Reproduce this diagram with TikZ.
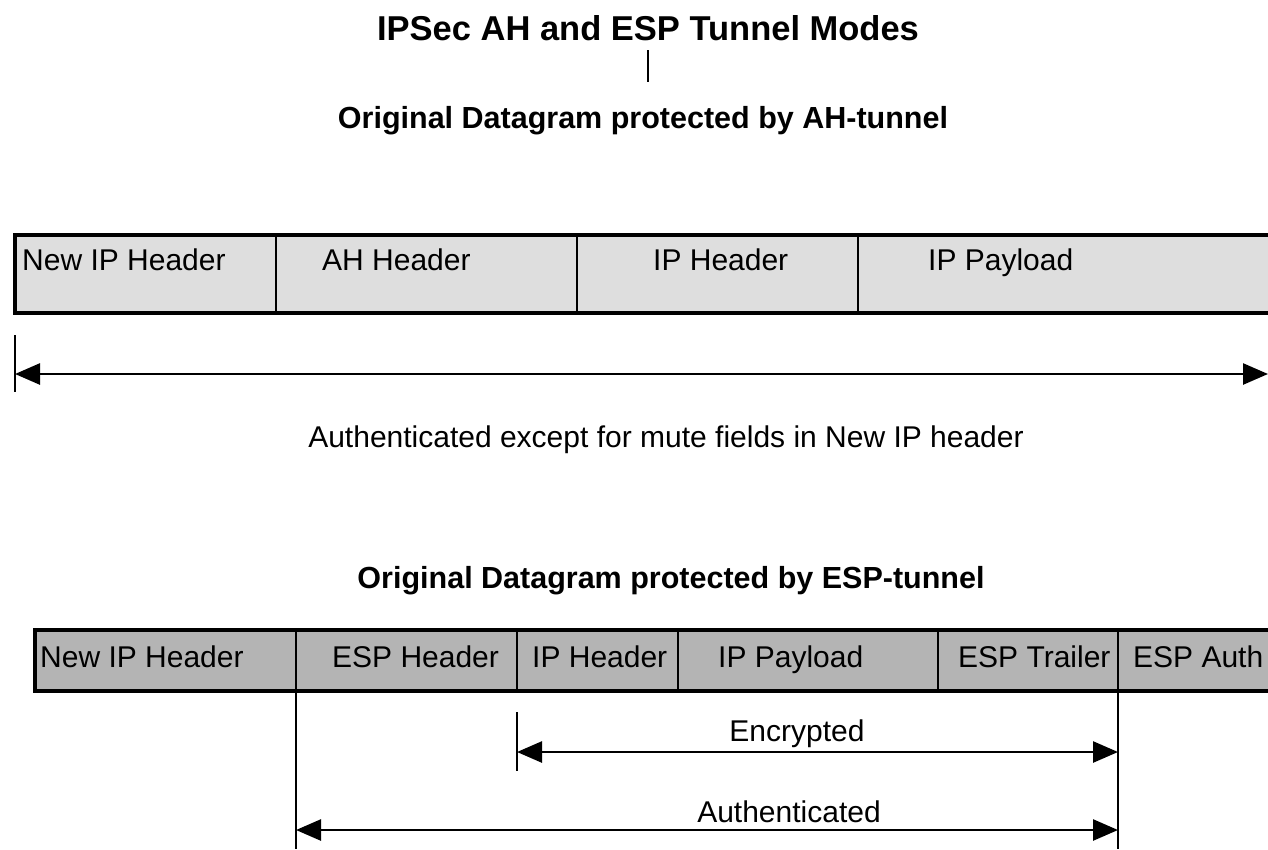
\documentclass[tikz,border=0pt]{standalone}
\usepackage{fontspec}
\setmainfont{Liberation Sans}
\usetikzlibrary{arrows.meta}
\definecolor{ahgray}{HTML}{DEDEDE}
\definecolor{espgray}{HTML}{B4B4B4}
\begin{document}
\begin{tikzpicture}[x=1pt,y=-1pt,
  cell/.style={draw=black, line width=2.7pt, inner sep=0pt, outer sep=0pt, anchor=north west},
  ahcell/.style={cell, fill=ahgray, minimum height=78pt},
  espcell/.style={cell, fill=espgray, minimum height=61pt},
  lbl/.style={anchor=base west, inner sep=0pt, font=\fontsize{30}{36}\selectfont},
  ttl/.style={anchor=base, inner sep=0pt, font=\bfseries\fontsize{34.5}{40}\selectfont},
  sub/.style={anchor=base, inner sep=0pt, font=\bfseries\fontsize{30.5}{36}\selectfont},
  note/.style={anchor=base, inner sep=0pt, font=\fontsize{30}{36}\selectfont},
  conn/.style={line width=2.6pt},
  span/.style={line width=2.6pt, {Triangle[length=25pt,width=21pt]}-{Triangle[length=25pt,width=21pt]}}
]
\useasboundingbox (0,0) rectangle (1268,849);
\clip (0,0) rectangle (1268,849);
\fill[white] (0,0) rectangle (1268,849);

% titles
\node[ttl] (title) at (648,40) {IPSec AH and ESP Tunnel Modes};
\node[sub] (ahsub) at (643,128) {Original Datagram protected by AH-tunnel};
\draw[line width=2.4pt] (648,50) coordinate (tlink) -- (648,82) coordinate (slink);

% AH tunnel packet
\node[ahcell, minimum width=261pt] (ahnew) at (15,235) {};
\node[ahcell, minimum width=301pt] (ahah) at (276,235) {};
\node[ahcell, minimum width=281pt] (ahip) at (577,235) {};
\node[ahcell, minimum width=432pt] (ahpay) at (858,235) {};
\draw[line width=3.6pt] (ahnew.north west) rectangle (ahpay.south east);
\node[lbl] (ahnewt) at (22,270) {New IP Header};
\node[lbl] (ahaht) at (322,270) {AH Header};
\node[lbl] (ahipt) at (653,270) {IP Header};
\node[lbl] (ahpayt) at (928,270) {IP Payload};

% AH authentication span
\draw[conn] (15,335) coordinate (ahtickT) -- (15,392) coordinate (ahtickB);
\coordinate (ahL) at (15,374);
\coordinate (ahR) at (1268,374);
\draw[span] (ahL) -- (ahR);
\node[note] (ahnote) at (666,447) {Authenticated except for mute fields in New IP header};

% ESP tunnel
\node[sub] (espsub) at (671,588) {Original Datagram protected by ESP-tunnel};
\node[espcell, minimum width=261pt] (espnew) at (35,630) {};
\node[espcell, minimum width=221pt] (esphdr) at (296,630) {};
\node[espcell, minimum width=161pt] (espip) at (517,630) {};
\node[espcell, minimum width=260pt] (esppay) at (678,630) {};
\node[espcell, minimum width=180pt] (esptr) at (938,630) {};
\node[espcell, minimum width=172pt] (espauth) at (1118,630) {};
\draw[line width=3.6pt] (espnew.north west) rectangle (espauth.south east);
\node[lbl] (espnewt) at (40,667) {New IP Header};
\node[lbl] (esphdrt) at (332,667) {ESP Header};
\node[lbl] (espipt) at (532,667) {IP Header};
\node[lbl] (esppayt) at (718,667) {IP Payload};
\node[lbl] (esptrt) at (958,667) {ESP Trailer};
\node[lbl] (espautht) at (1133,667) {ESP Auth};

% ESP spans
\coordinate (authL) at (296,849);
\coordinate (authR) at (1118,849);
\draw[conn] (esphdr.south west) -- (authL);
\draw[conn] (espauth.south west) -- (authR);
\draw[conn] (517,712) coordinate (enctickT) -- (517,771) coordinate (enctickB);
\coordinate (encL) at (517,752);
\coordinate (encR) at (1118,752);
\draw[span] (encL) -- (encR);
\node[note] (enct) at (797,741) {Encrypted};
\coordinate (autL) at (296,830);
\coordinate (autR) at (1118,830);
\draw[span] (autL) -- (autR);
\node[note] (autt) at (789,822) {Authenticated};
\end{tikzpicture}
\end{document}
